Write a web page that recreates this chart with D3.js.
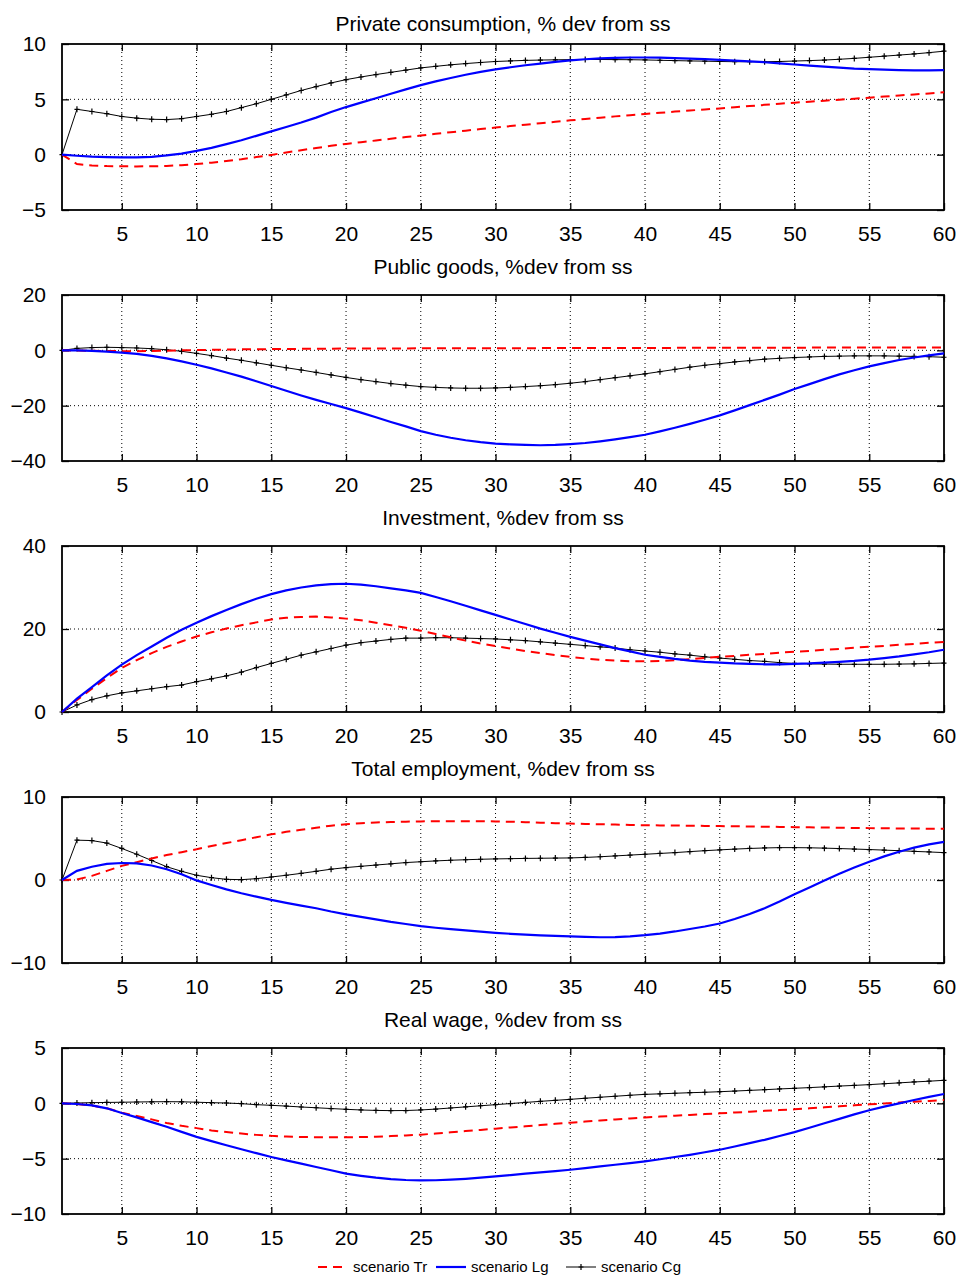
<!DOCTYPE html>
<html>
<head>
<meta charset="utf-8">
<script src="https://cdn.jsdelivr.net/npm/d3@7"></script>
<style>
body { margin: 0; background: #fff; }
text { font-family: "Liberation Sans", Arial, sans-serif; fill: #000; }
</style>
</head>
<body>
<svg id="chart" width="958" height="1277"></svg>
<script>
// periods on the x axis
var periods = d3.range(1, 61);
var xTicks = [5, 10, 15, 20, 25, 30, 35, 40, 45, 50, 55, 60];

var titles = ["Private consumption, % dev from ss", "Public goods, %dev from ss",
    "Investment, %dev from ss", "Total employment, %dev from ss", "Real wage, %dev from ss"];
var yDomains = [[-5, 10], [-40, 20], [0, 40], [-10, 10], [-10, 5]];
var yTicks = [[-5, 0, 5, 10], [-40, -20, 0, 20], [0, 20, 40], [-10, 0, 10], [-10, -5, 0, 5]];
var legendLabels = ["scenario Tr", "scenario Lg", "scenario Cg"];

// private consumption
var consTr = [0, -0.85, -0.97, -1.03, -1.05, -1.06, -1.05, -1.02, -0.95, -0.85, -0.72, -0.58, -0.42, -0.22, -0.02,
    0.2, 0.4, 0.6, 0.8, 0.97, 1.13, 1.28, 1.44, 1.59, 1.73, 1.88, 2.03, 2.17, 2.31, 2.45,
    2.58, 2.71, 2.84, 2.97, 3.1, 3.22, 3.34, 3.46, 3.57, 3.68, 3.78, 3.89, 3.99, 4.09, 4.18,
    4.29, 4.39, 4.5, 4.6, 4.7, 4.79, 4.88, 4.97, 5.06, 5.15, 5.25, 5.35, 5.44, 5.53, 5.63];
var consLg = [0, -0.1, -0.18, -0.22, -0.25, -0.25, -0.2, -0.07, 0.1, 0.34, 0.62, 0.95, 1.3, 1.7, 2.1,
    2.5, 2.9, 3.35, 3.85, 4.3, 4.7, 5.1, 5.5, 5.9, 6.28, 6.62, 6.93, 7.22, 7.48, 7.7,
    7.9, 8.08, 8.23, 8.38, 8.52, 8.62, 8.7, 8.75, 8.78, 8.78, 8.76, 8.72, 8.68, 8.63, 8.57,
    8.5, 8.43, 8.35, 8.25, 8.15, 8.05, 7.95, 7.86, 7.78, 7.73, 7.68, 7.64, 7.62, 7.62, 7.64];
var consCg = [0, 4.1, 3.9, 3.7, 3.45, 3.3, 3.2, 3.17, 3.25, 3.45, 3.65, 3.9, 4.25, 4.6, 5.0,
    5.4, 5.8, 6.15, 6.48, 6.78, 7.02, 7.24, 7.44, 7.64, 7.84, 7.98, 8.12, 8.23, 8.33, 8.42,
    8.47, 8.52, 8.55, 8.57, 8.59, 8.6, 8.6, 8.59, 8.58, 8.56, 8.53, 8.5, 8.47, 8.45, 8.42,
    8.4, 8.4, 8.4, 8.42, 8.46, 8.5, 8.55, 8.62, 8.7, 8.8, 8.9, 9.0, 9.1, 9.22, 9.35];

// public goods
var pubTr = [0, -0.05, -0.15, -0.25, -0.3, -0.3, -0.25, -0.15, 0, 0.1, 0.2, 0.28, 0.35, 0.4, 0.45,
    0.5, 0.54, 0.58, 0.6, 0.63, 0.65, 0.67, 0.69, 0.7, 0.72, 0.73, 0.74, 0.75, 0.76, 0.77,
    0.78, 0.79, 0.8, 0.81, 0.82, 0.83, 0.84, 0.85, 0.86, 0.87, 0.88, 0.89, 0.9, 0.91, 0.92,
    0.93, 0.94, 0.95, 0.96, 0.97, 0.98, 0.99, 1.0, 1.01, 1.02, 1.03, 1.04, 1.05, 1.06, 1.07];
var pubLg = [0, -0.05, -0.2, -0.45, -0.8, -1.3, -2.0, -2.9, -4.0, -5.2, -6.5, -8.0, -9.5, -11.2, -12.9,
    -14.6, -16.3, -17.9, -19.4, -20.9, -22.5, -24.2, -25.9, -27.5, -29.2, -30.5, -31.6, -32.5, -33.2, -33.7,
    -34.0, -34.2, -34.3, -34.2, -33.9, -33.5, -32.9, -32.2, -31.4, -30.5, -29.3, -28.0, -26.6, -25.1, -23.5,
    -21.7, -19.8, -17.9, -16.0, -14.0, -12.2, -10.4, -8.7, -7.2, -5.8, -4.6, -3.5, -2.6, -1.8, -1.1];
var pubCg = [0, 0.7, 1.0, 1.1, 1.0, 0.85, 0.6, 0.2, -0.35, -1.1, -1.9, -2.8, -3.6, -4.5, -5.4,
    -6.3, -7.1, -8.0, -8.9, -9.8, -10.6, -11.3, -12.0, -12.6, -13.1, -13.4, -13.6, -13.7, -13.7, -13.6,
    -13.4, -13.1, -12.8, -12.4, -11.9, -11.3, -10.6, -9.9, -9.2, -8.5, -7.7, -6.9, -6.1, -5.4, -4.8,
    -4.2, -3.7, -3.2, -2.9, -2.6, -2.4, -2.2, -2.1, -2.0, -2.0, -2.0, -2.1, -2.2, -2.3, -2.5];

// investment
var invTr = [0, 2.9, 5.6, 8.2, 10.6, 12.5, 14.2, 15.7, 17.0, 18.2, 19.2, 20.1, 20.9, 21.6, 22.3,
    22.7, 22.9, 23.0, 22.8, 22.5, 22.1, 21.5, 20.9, 20.3, 19.6, 18.8, 18.0, 17.2, 16.5, 15.9,
    15.3, 14.7, 14.2, 13.7, 13.3, 12.9, 12.6, 12.4, 12.25, 12.2, 12.3, 12.5, 12.7, 13.0, 13.3,
    13.5, 13.8, 14.0, 14.3, 14.5, 14.7, 15.0, 15.2, 15.5, 15.7, 15.9, 16.2, 16.4, 16.7, 16.9];
var invLg = [0, 3.2, 6.0, 8.8, 11.4, 13.7, 15.8, 17.9, 19.8, 21.5, 23.1, 24.6, 26.0, 27.3, 28.4,
    29.3, 30.0, 30.5, 30.8, 30.9, 30.7, 30.3, 29.8, 29.3, 28.7, 27.7, 26.7, 25.6, 24.5, 23.4,
    22.3, 21.2, 20.1, 19.1, 18.1, 17.2, 16.3, 15.4, 14.6, 13.8, 13.3, 12.8, 12.4, 12.1, 11.9,
    11.7, 11.6, 11.5, 11.5, 11.6, 11.7, 11.9, 12.1, 12.3, 12.6, 13.0, 13.4, 13.9, 14.4, 15.0];
var invCg = [0, 1.7, 3.0, 3.9, 4.6, 5.1, 5.6, 6.1, 6.5, 7.3, 8.0, 8.7, 9.6, 10.7, 11.7,
    12.7, 13.7, 14.5, 15.3, 16.1, 16.7, 17.1, 17.5, 17.8, 17.8, 17.9, 17.9, 17.8, 17.7, 17.6,
    17.4, 17.2, 16.9, 16.6, 16.3, 16.0, 15.7, 15.4, 15.0, 14.7, 14.4, 14.0, 13.7, 13.3, 13.0,
    12.7, 12.4, 12.2, 11.9, 11.7, 11.6, 11.55, 11.5, 11.5, 11.5, 11.5, 11.55, 11.6, 11.7, 11.8];

// total employment
var empTr = [0, 0.05, 0.5, 1.1, 1.7, 2.15, 2.6, 3.0, 3.35, 3.7, 4.1, 4.45, 4.8, 5.15, 5.5,
    5.8, 6.05, 6.3, 6.55, 6.73, 6.85, 6.93, 6.99, 7.03, 7.06, 7.08, 7.09, 7.09, 7.08, 7.06,
    7.02, 6.97, 6.91, 6.85, 6.8, 6.76, 6.72, 6.68, 6.64, 6.6, 6.58, 6.56, 6.54, 6.52, 6.5,
    6.47, 6.45, 6.42, 6.4, 6.37, 6.35, 6.32, 6.3, 6.27, 6.25, 6.23, 6.21, 6.2, 6.18, 6.17];
var empLg = [0, 1.1, 1.6, 1.95, 2.05, 2.0, 1.75, 1.3, 0.7, -0.05, -0.6, -1.13, -1.6, -2.0, -2.4,
    -2.75, -3.08, -3.4, -3.8, -4.15, -4.45, -4.75, -5.05, -5.3, -5.56, -5.75, -5.92, -6.08, -6.23, -6.37,
    -6.48, -6.58, -6.67, -6.74, -6.8, -6.86, -6.9, -6.88, -6.8, -6.65, -6.45, -6.2, -5.9, -5.6, -5.24,
    -4.7, -4.1, -3.4, -2.6, -1.73, -0.9, -0.05, 0.75, 1.5, 2.2, 2.85, 3.4, 3.9, 4.3, 4.6];
var empCg = [0, 4.8, 4.75, 4.45, 3.8, 3.1, 2.35, 1.6, 1.05, 0.57, 0.28, 0.08, 0.04, 0.16, 0.36,
    0.57, 0.8, 1.05, 1.3, 1.5, 1.65, 1.8, 1.95, 2.1, 2.2, 2.3, 2.38, 2.44, 2.5, 2.54,
    2.57, 2.6, 2.62, 2.64, 2.66, 2.72, 2.8, 2.9, 3.0, 3.1, 3.2, 3.3, 3.42, 3.53, 3.63,
    3.72, 3.8, 3.86, 3.9, 3.9, 3.88, 3.84, 3.79, 3.73, 3.67, 3.6, 3.53, 3.45, 3.38, 3.3];

// real wage
var wageTr = [0, -0.05, -0.2, -0.45, -0.85, -1.15, -1.45, -1.78, -2.03, -2.24, -2.45, -2.6, -2.73, -2.85, -2.94,
    -3.0, -3.04, -3.06, -3.07, -3.07, -3.05, -3.01, -2.96, -2.9, -2.83, -2.73, -2.62, -2.51, -2.4, -2.29,
    -2.18, -2.07, -1.96, -1.85, -1.75, -1.65, -1.55, -1.46, -1.36, -1.27, -1.2, -1.12, -1.05, -0.97, -0.9,
    -0.83, -0.76, -0.68, -0.61, -0.54, -0.45, -0.36, -0.27, -0.18, -0.09, -0.01, 0.07, 0.15, 0.22, 0.3];
var wageLg = [0, -0.06, -0.18, -0.45, -0.88, -1.27, -1.7, -2.12, -2.58, -3.03, -3.42, -3.79, -4.15, -4.5, -4.85,
    -5.15, -5.45, -5.75, -6.05, -6.35, -6.55, -6.72, -6.85, -6.93, -6.96, -6.95, -6.9, -6.82, -6.72, -6.6,
    -6.48, -6.36, -6.24, -6.12, -6.0, -5.85, -5.7, -5.55, -5.4, -5.24, -5.05, -4.85, -4.65, -4.42, -4.19,
    -3.9, -3.6, -3.3, -2.95, -2.6, -2.2, -1.8, -1.4, -1.0, -0.63, -0.3, 0.0, 0.3, 0.58, 0.84];
var wageCg = [0, 0.03, 0.06, 0.08, 0.1, 0.12, 0.14, 0.15, 0.14, 0.1, 0.06, 0.03, -0.03, -0.12, -0.18,
    -0.25, -0.33, -0.4, -0.47, -0.54, -0.6, -0.64, -0.66, -0.65, -0.6, -0.52, -0.42, -0.32, -0.22, -0.12,
    -0.02, 0.08, 0.18, 0.27, 0.36, 0.46, 0.55, 0.64, 0.73, 0.81, 0.86, 0.91, 0.96, 1.0, 1.05,
    1.11, 1.17, 1.23, 1.3, 1.36, 1.42, 1.49, 1.56, 1.62, 1.69, 1.77, 1.85, 1.93, 2.0, 2.08];

var trSeries = [consTr, pubTr, invTr, empTr, wageTr];
var lgSeries = [consLg, pubLg, invLg, empLg, wageLg];
var cgSeries = [consCg, pubCg, invCg, empCg, wageCg];

var svg = d3.select("#chart");
var left = 62, right = 944, panelH = 166, firstTop = 44, step = 251;
var x = d3.scaleLinear().domain([1, 60]).range([left, right]);
var plus = "M-2.5,0H2.5M0,-3V3";
var fontSize = "21px";

titles.forEach(function(title, i) {
    var top = firstTop + i * step;
    var y = d3.scaleLinear().domain(yDomains[i]).range([top + panelH, top]);
    var g = svg.append("g");

    // first title sits closer to its box than the others
    g.append("text").attr("x", (left + right) / 2).attr("y", i === 0 ? top - 13 : top - 21)
        .attr("text-anchor", "middle").style("font-size", fontSize).text(title);

    // dotted grid
    g.selectAll(".vg").data(xTicks.filter(function(d) { return d < 60; })).enter().append("line")
        .attr("x1", function(d) { return x(d); }).attr("x2", function(d) { return x(d); })
        .attr("y1", top).attr("y2", top + panelH)
        .attr("stroke", "#000").attr("stroke-width", 1).attr("stroke-dasharray", "1,3");
    g.selectAll(".hg").data(yTicks[i].filter(function(d) { return d > yDomains[i][0] && d < yDomains[i][1]; }))
        .enter().append("line")
        .attr("x1", left).attr("x2", right)
        .attr("y1", function(d) { return y(d); }).attr("y2", function(d) { return y(d); })
        .attr("stroke", "#000").attr("stroke-width", 1).attr("stroke-dasharray", "1,3");

    // axes with inward ticks
    g.append("g").attr("transform", "translate(0," + (top + panelH) + ")")
        .call(d3.axisBottom(x).tickValues(xTicks).tickSizeInner(-7).tickSizeOuter(0).tickPadding(16));
    g.append("g").attr("transform", "translate(0," + top + ")")
        .call(d3.axisTop(x).tickValues(xTicks).tickSizeInner(-7).tickSizeOuter(0).tickFormat(""));
    g.append("g").attr("transform", "translate(" + left + ",0)")
        .call(d3.axisLeft(y).tickValues(yTicks[i]).tickSizeInner(-7).tickSizeOuter(0).tickPadding(16));
    g.append("g").attr("transform", "translate(" + right + ",0)")
        .call(d3.axisRight(y).tickValues(yTicks[i]).tickSizeInner(-7).tickSizeOuter(0).tickFormat(""));
    g.selectAll(".domain").remove();
    g.selectAll(".tick line").attr("stroke", "#000").attr("stroke-width", 1.3);
    g.selectAll(".tick text").style("font-size", fontSize).style("font-family", "'Liberation Sans', Arial, sans-serif");

    g.append("rect").attr("x", left).attr("y", top).attr("width", right - left).attr("height", panelH)
        .attr("fill", "none").attr("stroke", "#000").attr("stroke-width", 1.8);

    var line = d3.line()
        .x(function(d, k) { return x(periods[k]); })
        .y(function(d) { return y(d); });

    g.append("path").datum(cgSeries[i]).attr("d", line)
        .attr("fill", "none").attr("stroke", "#000").attr("stroke-width", 1);
    g.selectAll(".mk").data(cgSeries[i]).enter().append("path")
        .attr("d", plus)
        .attr("transform", function(d, k) { return "translate(" + x(periods[k]) + "," + y(d) + ")"; })
        .attr("stroke", "#000").attr("stroke-width", 1.2).attr("fill", "none");
    g.append("path").datum(trSeries[i]).attr("d", line)
        .attr("fill", "none").attr("stroke", "#ff0000").attr("stroke-width", 2)
        .attr("stroke-dasharray", "9,6");
    g.append("path").datum(lgSeries[i]).attr("d", line)
        .attr("fill", "none").attr("stroke", "#0000ff").attr("stroke-width", 2.2);
});

// legend
var lg = svg.append("g").attr("transform", "translate(0,1267)");
var legendX = [318, 436, 566];
var legendStyles = [
    { stroke: "#ff0000", dash: "9,6", w: 2 },
    { stroke: "#0000ff", dash: null, w: 2.2 },
    { stroke: "#000", dash: null, w: 1 }
];
legendLabels.forEach(function(lab, k) {
    var x0 = legendX[k];
    lg.append("line").attr("x1", x0).attr("x2", x0 + 30).attr("y1", 0).attr("y2", 0)
        .attr("stroke", legendStyles[k].stroke).attr("stroke-width", legendStyles[k].w)
        .attr("stroke-dasharray", legendStyles[k].dash);
    if (k === 2) {
        lg.append("path").attr("d", plus).attr("transform", "translate(" + (x0 + 15) + ",0)")
            .attr("stroke", "#000").attr("stroke-width", 1.2);
    }
    lg.append("text").attr("x", x0 + 35).attr("y", 5)
        .style("font-size", "15px").style("font-family", "'Liberation Sans Narrow', 'Liberation Sans', Arial, sans-serif")
        .text(lab);
});
</script>
</body>
</html>
